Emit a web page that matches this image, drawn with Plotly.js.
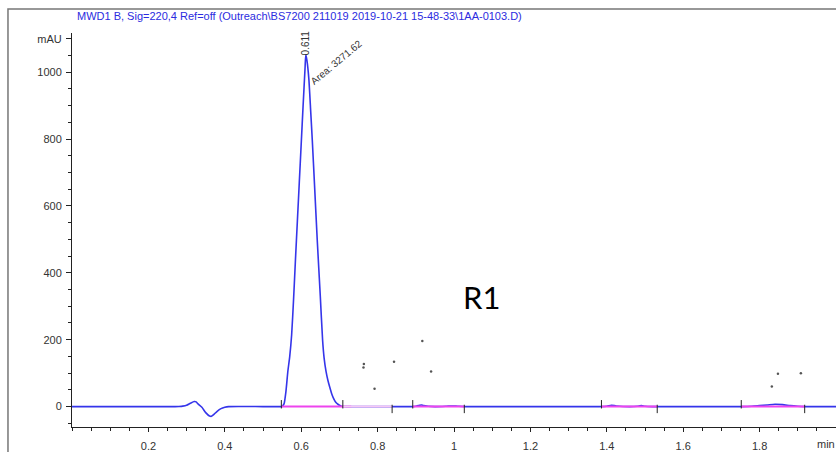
<!DOCTYPE html>
<html>
<head>
<meta charset="utf-8">
<script src="https://cdn.plot.ly/plotly-3.0.1.min.js"></script>
<style>html,body{margin:0;padding:0;background:#fff;}#chart{width:836px;height:452px;}</style>
</head>
<body>
<div id="chart"></div>
<script>
// Chromatogram signal (time in min, signal in mAU)
const signalTime = [0, 0.1, 0.2, 0.27, 0.28, 0.29, 0.30, 0.31, 0.32, 0.325, 0.33, 0.34, 0.35, 0.36, 0.365, 0.37, 0.38, 0.39, 0.40, 0.41, 0.5, 0.54,
  0.55, 0.555, 0.56, 0.565, 0.57, 0.575, 0.58, 0.585, 0.59, 0.595, 0.60, 0.605, 0.61, 0.612, 0.615, 0.62, 0.625, 0.629, 0.635, 0.642, 0.65, 0.656,
  0.66, 0.665, 0.67, 0.675, 0.68, 0.685, 0.69, 0.695, 0.70, 0.705, 0.72, 0.8, 0.89, 0.90, 0.91, 0.915, 0.92, 0.95, 0.98, 0.995, 1.01, 1.03, 1.2,
  1.38, 1.40, 1.412, 1.425, 1.46, 1.48, 1.49, 1.50, 1.52, 1.7, 1.75, 1.78, 1.80, 1.82, 1.84, 1.86, 1.88, 1.90, 1.92, 2.0];
const signalMAU = [0, 0, 0, 0, 0.5, 1.5, 4, 10, 15, 14, 8, -2, -18, -28, -29, -25, -14, -6, -2, 0, 0, 0,
  0.5, 8, 45, 105, 150, 215, 320, 440, 555, 670, 785, 900, 1010, 1052, 1035, 980, 880, 797, 660, 498, 330, 199,
  145, 105, 78, 57, 38, 24, 14, 8, 4, 1, 0, 0, 0, 1, 4, 5, 3, 0, 1, 2, 1, 0, 0,
  0, 1, 4, 2, 0, 1, 3, 1, 0, 0, 0, 1, 3, 5, 7, 6, 3, 1, 0, 0];

// Integration baselines (start/end times), drawn at 0 mAU
const baseStart = [0.548, 0.709, 0.892, 1.386, 1.752];
const baseEnd   = [0.731, 0.838, 1.027, 1.532, 1.918];
// Integration event tick marks
const tickUpTimes   = [0.548, 0.709, 0.892, 1.386, 1.752];
const tickDownTimes = [0.838, 1.027, 1.532, 1.918];
// Stray specks in the scan
const speckTime = [0.764, 0.763, 0.792, 0.843, 0.917, 0.940, 1.832, 1.848, 1.908];
const speckMAU  = [127, 117, 53, 134, 196, 105, 60, 98, 100];

// Axis ticks
const yTickVals = [0, 200, 400, 600, 800, 1000, 1100];
const yTickText = ['0', '200', '400', '600', '800', '1000', 'mAU'];
const xTickVals = [0.2, 0.4, 0.6, 0.8, 1, 1.2, 1.4, 1.6, 1.8];
const xTickText = ['0.2', '0.4', '0.6', '0.8', '1', '1.2', '1.4', '1.6', '1.8'];
const xUnit = 'min';

const titleText = 'MWD1 B, Sig=220,4 Ref=off (Outreach\\BS7200 211019 2019-10-21 15-48-33\\1AA-0103.D)';
const peakRT = 0.611, peakTop = 1052, peakArea = '3271.62';

const traces = [];
traces.push({x: signalTime, y: signalMAU, type: 'scatter', mode: 'lines',
  line: {color: '#3535ea', width: 1.6, shape: 'spline', smoothing: 0.6}, hoverinfo: 'skip'});
for (let i = 0; i < baseStart.length; i++) {
  traces.push({x: [baseStart[i], baseEnd[i]], y: [0, 0], type: 'scatter', mode: 'lines',
    line: {color: i === 1 ? '#f6c8f6' : '#ee44ee', width: 2}, hoverinfo: 'skip'});
}
traces.push({x: tickUpTimes, y: tickUpTimes.map(() => 7), type: 'scatter', mode: 'markers',
  marker: {symbol: 'line-ns', size: 6, line: {color: '#222', width: 1}}, hoverinfo: 'skip'});
traces.push({x: tickDownTimes, y: tickDownTimes.map(() => -7), type: 'scatter', mode: 'markers',
  marker: {symbol: 'line-ns', size: 6, line: {color: '#222', width: 1}}, hoverinfo: 'skip'});
traces.push({x: speckTime, y: speckMAU, type: 'scatter', mode: 'markers',
  marker: {size: 2.5, color: '#555'}, hoverinfo: 'skip'});

const layout = {
  width: 836, height: 452,
  margin: {l: 72, r: 0, t: 33, b: 25},
  paper_bgcolor: '#fff', plot_bgcolor: '#fff',
  showlegend: false,
  font: {family: 'Liberation Sans, Arial, sans-serif', size: 11, color: '#333'},
  xaxis: {range: [0, 2.0], showgrid: false, zeroline: false, showline: true, linecolor: '#222', linewidth: 1,
    tickmode: 'array', tickvals: xTickVals, ticktext: xTickText, ticks: 'outside', ticklen: 4, tickcolor: '#222',
    ticklabelstandoff: 5, tickfont: {size: 11, color: '#333'},
    minor: {tickmode: 'linear', tick0: 0, dtick: 0.05, ticks: 'outside', ticklen: 3, tickcolor: '#222'}},
  yaxis: {range: [-61, 1117], showgrid: false, zeroline: false, showline: true, linecolor: '#222', linewidth: 1,
    tickmode: 'array', tickvals: yTickVals, ticktext: yTickText, ticks: 'outside', ticklen: 5, tickcolor: '#222',
    ticklabelstandoff: 2, tickfont: {size: 11, color: '#333'},
    minor: {tickmode: 'linear', tick0: 0, dtick: 50, ticks: 'outside', ticklen: 3, tickcolor: '#222'}},
  shapes: [{type: 'rect', xref: 'paper', yref: 'paper', x0: -0.0838, x1: 1.2, y0: -0.3, y1: 1.061,
    line: {color: '#777', width: 1.5}, fillcolor: 'rgba(0,0,0,0)', layer: 'above'}],
  annotations: [
    {xref: 'paper', yref: 'paper', x: 0.004, y: 1.043, xanchor: 'left', yanchor: 'middle', showarrow: false,
      text: titleText, font: {size: 11, color: '#2b2be0', family: 'Liberation Sans, Arial, sans-serif'}},
    {x: peakRT, y: peakTop + 35, xref: 'x', yref: 'y', showarrow: false, textangle: -90, text: String(peakRT),
      font: {size: 10, color: '#333'}},
    {x: 0.6915, y: 1028, xref: 'x', yref: 'y', showarrow: false, textangle: -40, text: 'Area: ' + peakArea,
      font: {size: 10, color: '#333'}},
    {x: 1.072, y: 329, xref: 'x', yref: 'y', showarrow: false, text: 'R1',
      font: {size: 31, color: '#000', family: 'Lato, Carlito, sans-serif'}},
    {xref: 'paper', yref: 'paper', x: 0.987, y: -0.0435, xanchor: 'center', yanchor: 'middle', showarrow: false,
      text: xUnit, font: {size: 11, color: '#333'}}
  ]
};

Plotly.newPlot('chart', traces, layout, {staticPlot: true, displayModeBar: false});
</script>
</body>
</html>
